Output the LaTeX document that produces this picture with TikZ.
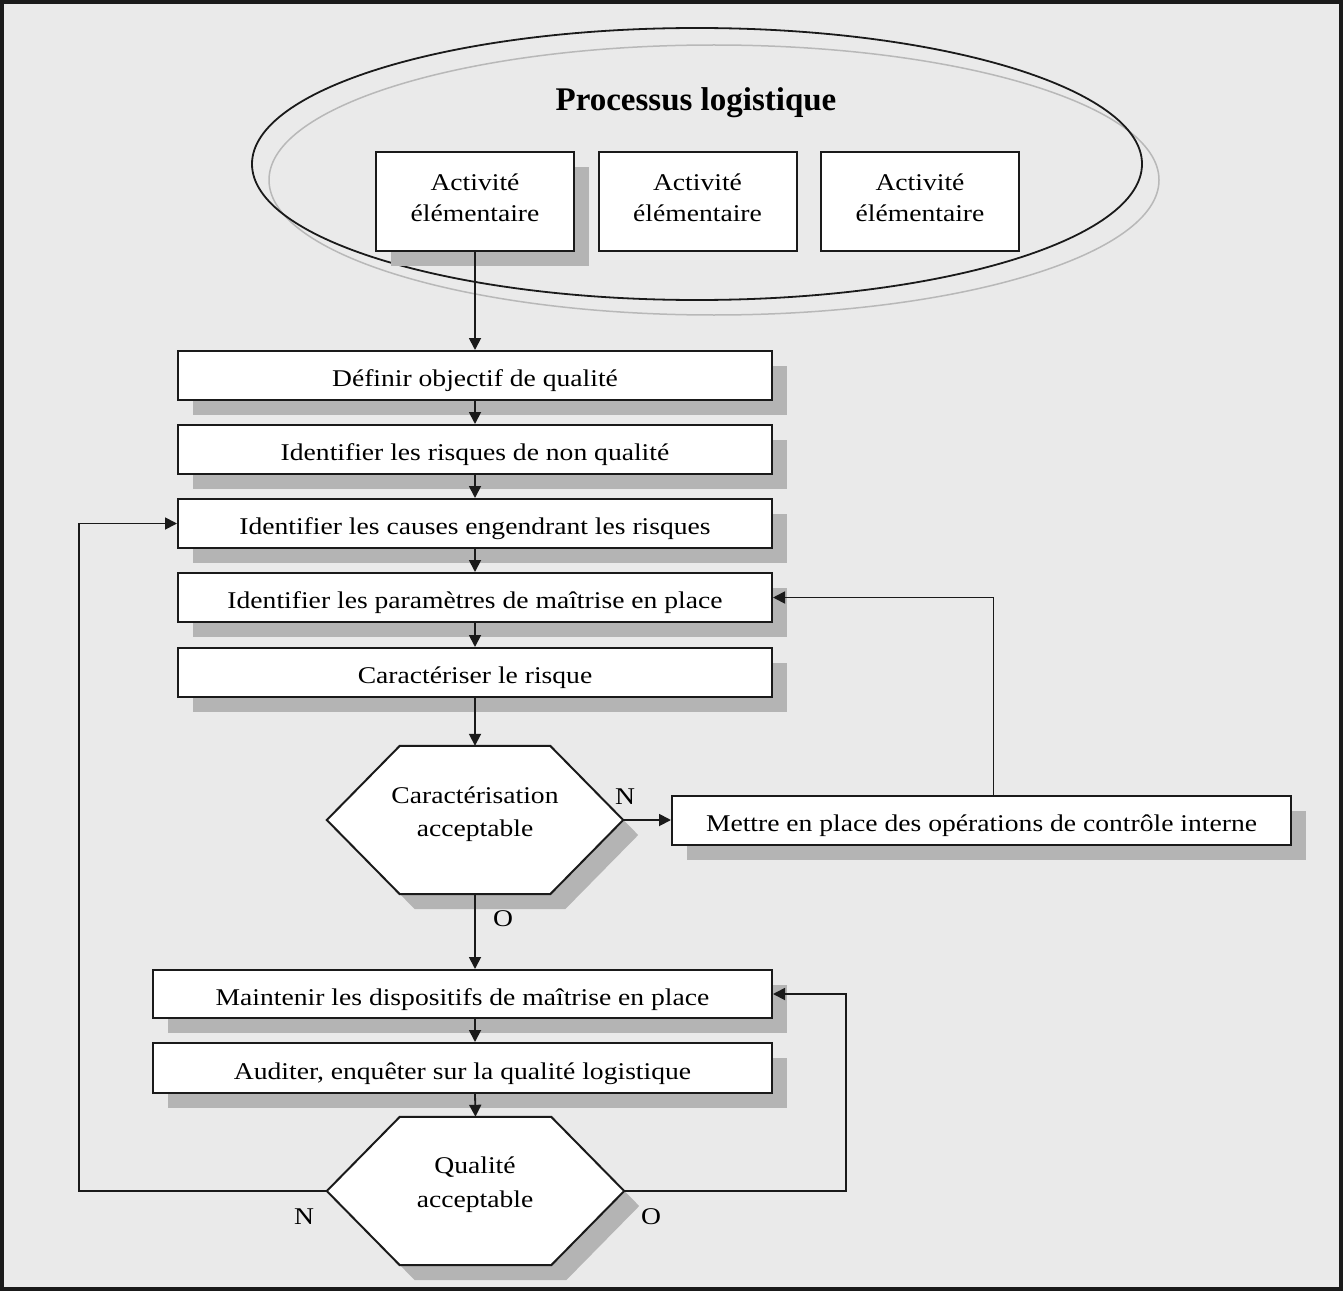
\documentclass[tikz,border=0pt]{standalone}
\usepackage{fontspec}
\setmainfont{Liberation Serif}
\newfontfamily\widefont[FakeStretch=1.15]{Liberation Serif}
\usetikzlibrary{arrows.meta,shadows,calc}
\definecolor{bg}{HTML}{EAEAEA}
\definecolor{shd}{HTML}{B4B4B4}
\definecolor{ln}{HTML}{1A1A1A}
\definecolor{lightln}{HTML}{B8B8B8}
\newcommand{\drawhexagon}[1]{%
  \fill[shd] ([shift={(15,15)}]#1.west) -- ([shift={(88,15)}]#1.north west) -- ([shift={(-58,15)}]#1.north east) -- ([shift={(15,15)}]#1.east) -- ([shift={(-58,15)}]#1.south east) -- ([shift={(88,15)}]#1.south west) -- cycle;
  \filldraw[fill=white, draw=ln, line width=2pt, line join=miter] (#1.west) -- ([xshift=73pt]#1.north west) -- ([xshift=-73pt]#1.north east) -- (#1.east) -- ([xshift=-73pt]#1.south east) -- ([xshift=73pt]#1.south west) -- cycle;}
\begin{document}
\begin{tikzpicture}[x=1pt,y=-1pt,
  txt/.style={font=\widefont\fontsize{24}{33}\selectfont, align=center, inner sep=0pt},
  box/.style={txt, draw=ln, fill=white, line width=2pt, text height=22pt, text depth=0pt},
  shbox/.style={box, drop shadow={shadow xshift=15pt, shadow yshift=-15pt, fill=shd, opacity=1}},
  hexarea/.style={draw=none, inner sep=0pt, minimum width=#1, minimum height=148pt},
  conn/.style={draw=ln, line width=1.8pt},
  arr/.style={conn, -{Triangle[length=12pt,width=12pt]}},
]
\useasboundingbox (0,0) rectangle (1343,1292);
\draw[fill=bg, draw=ln, line width=3.5pt] (2,2) rectangle (1341,1289);

% ellipses
\draw[lightln, line width=1.5pt] (714,180) ellipse [x radius=445pt, y radius=135pt];
\draw[ln, line width=1.8pt] (697,164) ellipse [x radius=445pt, y radius=136pt];
\node[font=\fontsize{33}{36}\selectfont\bfseries, inner sep=0pt, anchor=base] (title) at (696,111) {Processus logistique};

% activity boxes
\node[shbox, minimum width=198pt, minimum height=99pt] (a1) at (475,201.5) {};
\node[box, minimum width=198pt, minimum height=99pt] (a2) at (697.5,201.5) {};
\node[box, minimum width=198pt, minimum height=99pt] (a3) at (920,201.5) {};
\node[txt, anchor=base] (a1t) at (475,221.5) {Activité\\[-1.5pt]élémentaire};
\node[txt, anchor=base] (a2t) at (697.5,221.5) {Activité\\[-1.5pt]élémentaire};
\node[txt, anchor=base] (a3t) at (920,221.5) {Activité\\[-1.5pt]élémentaire};

% main flow boxes
\node[shbox, minimum width=594pt, minimum height=49pt] (b1) at (475,375.5) {Définir objectif de qualité};
\node[shbox, minimum width=594pt, minimum height=49pt] (b2) at (475,449.5) {Identifier les risques de non qualité};
\node[shbox, minimum width=594pt, minimum height=49pt] (b3) at (475,523.5) {Identifier les causes engendrant les risques};
\node[shbox, minimum width=594pt, minimum height=49pt] (b4) at (475,597.5) {Identifier les paramètres de maîtrise en place};
\node[shbox, minimum width=594pt, minimum height=49pt] (b5) at (475,672.5) {Caractériser le risque};

% hexagon 1
\node[hexarea=296pt] (h1) at (475,820) {};
\drawhexagon{h1}
\node[txt, anchor=base] (h1t) at (475,836) {Caractérisation\\acceptable};

\node[shbox, minimum width=619pt, minimum height=49pt] (m) at (981.5,820.5) {Mettre en place des opérations de contrôle interne};

\node[shbox, minimum width=619pt, minimum height=48pt] (mt) at (462.5,994) {Maintenir les dispositifs de maîtrise en place};
\node[shbox, minimum width=619pt, minimum height=50pt] (au) at (462.5,1068) {Auditer, enquêter sur la qualité logistique};

% hexagon 2
\node[hexarea=297pt] (h2) at (475.5,1191) {};
\drawhexagon{h2}
\node[txt, anchor=base] (h2t) at (475,1207) {Qualité\\[1pt]acceptable};

% connectors
\draw[arr] (a1.south) -- (b1.north);
\draw[arr] (b1.south) -- (b2.north);
\draw[arr] (b2.south) -- (b3.north);
\draw[arr] (b3.south) -- (b4.north);
\draw[arr] (b4.south) -- (b5.north);
\draw[arr] (b5.south) -- (h1.north);
\draw[arr] (h1.east) -- (h1.east -| m.west);
\draw[arr] ([xshift=12pt]m.north) |- (b4.east);
\draw[arr] (h1.south) -- (h1.south |- mt.north);
\draw[arr] (h1.south |- mt.south) -- (h1.south |- au.north);
\draw[arr] (h1.south |- au.south) -- (h2.north);
\coordinate (lx) at (79,1191);
\coordinate (rx) at (846,1191);
\draw[arr] (h2.west) -- (lx) |- (b3.west);
\draw[arr] (h2.east) -- (rx) |- (mt.east);

% labels
\node[txt] (n1) at (625,796.5) {N};
\node[txt] (o1) at (503,919) {O};
\node[txt] (n2) at (304,1217) {N};
\node[txt] (o2) at (651,1217) {O};
\end{tikzpicture}
\end{document}
